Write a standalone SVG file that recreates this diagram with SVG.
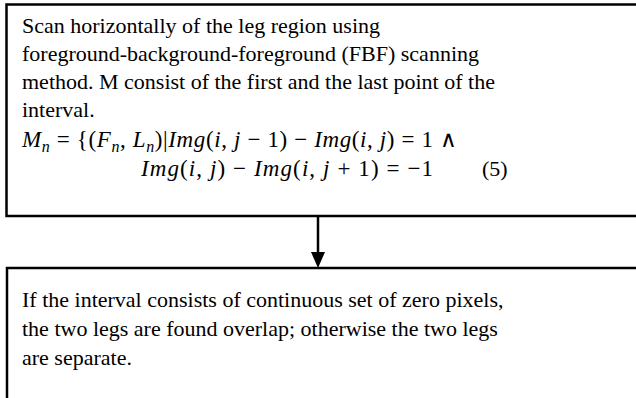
<svg xmlns="http://www.w3.org/2000/svg" width="636" height="398" viewBox="0 0 636 398">
<style>
.box{fill:#fff;stroke:#000;stroke-width:2.5}
.t{font-family:"Liberation Serif","Times New Roman",serif;font-size:22px;fill:#000}
.m{font-size:23px}
.i{font-style:italic}
.s{font-size:16px}
</style>
<rect width="636" height="398" fill="#fff"/>
<g id="node1">
<rect class="box" x="6.5" y="4.5" width="640" height="211.5"/>
<text class="t" x="22" y="33">Scan horizontally of the leg region using</text>
<text class="t" x="22" y="61">foreground-background-foreground (FBF) scanning</text>
<text class="t" x="22" y="89">method. M consist of the first and the last point of the</text>
<text class="t" x="22" y="117">interval.</text>
<text class="t m" x="22" y="147" textLength="435" lengthAdjust="spacing"><tspan class="i">M</tspan><tspan class="i s" dy="5">n</tspan><tspan dy="-5"> = {(</tspan><tspan class="i">F</tspan><tspan class="i s" dy="5">n</tspan><tspan dy="-5">, </tspan><tspan class="i">L</tspan><tspan class="i s" dy="5">n</tspan><tspan dy="-5">)|</tspan><tspan class="i">Img</tspan>(<tspan class="i">i</tspan>, <tspan class="i">j</tspan> − 1) − <tspan class="i">Img</tspan>(<tspan class="i">i</tspan>, <tspan class="i">j</tspan>) = 1  ∧</text>
<text class="t m" x="141" y="176" textLength="292" lengthAdjust="spacing"><tspan class="i">Img</tspan>(<tspan class="i">i</tspan>, <tspan class="i">j</tspan>) − <tspan class="i">Img</tspan>(<tspan class="i">i</tspan>, <tspan class="i">j</tspan> + 1) = −1</text>
<text class="t" x="482" y="176">(5)</text>
</g>
<g id="connectors">
<line x1="318" y1="216" x2="318" y2="254" stroke="#000" stroke-width="2.5"/>
<polygon points="311,252 325,252 318,268" fill="#000"/>
</g>
<g id="node2">
<rect class="box" x="7" y="268" width="640" height="140"/>
<text class="t" x="22" y="307">If the interval consists of continuous set of zero pixels,</text>
<text class="t" x="22" y="336">the two legs are found overlap; otherwise the two legs</text>
<text class="t" x="22" y="365">are separate.</text>
</g>
</svg>
